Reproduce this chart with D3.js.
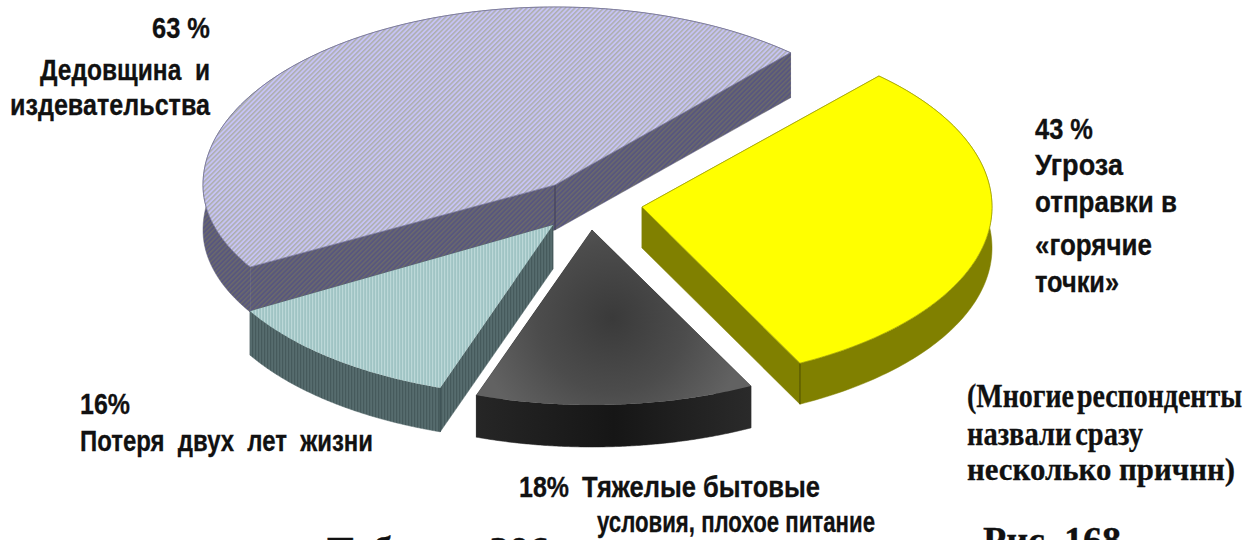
<!DOCTYPE html>
<html><head><meta charset="utf-8">
<script src="https://cdn.jsdelivr.net/npm/d3@7"></script>
<style>html,body{margin:0;padding:0;background:#fff;overflow:hidden}svg{display:block}
.s{font-family:"Liberation Sans",Arial,sans-serif;font-weight:700;fill:#111;stroke:#111;stroke-width:.3}
.r{font-family:"Liberation Serif","Times New Roman",serif;font-weight:700;fill:#111;stroke:#111;stroke-width:.3}</style>
</head><body><svg id="c" width="1244" height="540"></svg>
<script>
// ---- data ----
const categories = ["Дедовщина и издевательства","Угроза отправки в «горячие точки»","Тяжелые бытовые условия, плохое питание","Потеря двух лет жизни"];
const values = [63,43,18,16];
const pctLabels = ["63 %","43 %","18%","16%"];

// ---- drawing layout (not data) ----
const layout = [
 {cx:555,cy:185,rx:352,back:178,front:164,depth:45,start:240,top:"url(#hP)",wall:"url(#hPw)",edge:"#3c3a55",outline:"#77769a"},
 {cx:642,cy:207,rx:350,back:178,front:175,depth:41,start:42.6,top:"#ffff00",wall:"#808000",edge:"#4c4c00",outline:"#a8a800"},
 {cx:592,cy:230,rx:350,back:175,front:175,depth:42,start:153,top:"url(#gG)",wall:"url(#gW)",edge:null,outline:null},
 {cx:553,cy:225,rx:350,back:172,front:172,depth:44,start:198.8,top:"url(#hT)",wall:"url(#hTw)",edge:"#34474a",outline:null}
];
const textRows = [
 {t:"63 %",x:152,y:38,w:58,c:"s",fs:29},
 {t:"Дедовщина\u00a0\u00a0и",x:40,y:80,w:170,c:"s",fs:29},
 {t:"издевательства",x:10,y:115,w:200,c:"s",fs:29},
 {t:"43 %",x:1035,y:139,w:58,c:"s",fs:29},
 {t:"Угроза",x:1035,y:175,w:88,c:"s",fs:29},
 {t:"отправки в",x:1035,y:212,w:142,c:"s",fs:29},
 {t:"«горячие",x:1035,y:255,w:117,c:"s",fs:29},
 {t:"точки»",x:1035,y:292,w:84,c:"s",fs:29},
 {t:"16%",x:80,y:414,w:50,c:"s",fs:29},
 {t:"Потеря\u00a0 двух\u00a0 лет\u00a0 жизни",x:80,y:451,w:293,c:"s",fs:29},
 {t:"18%",x:519,y:497,w:50,c:"s",fs:29},
 {t:"Тяжелые бытовые",x:582,y:497,w:238,c:"s",fs:29},
 {t:"условия, плохое питание",x:597,y:532,w:278,c:"s",fs:29},
 {t:"(Многие респонденты",x:967,y:407,w:275,c:"r",fs:34,ws:-5},
 {t:"назвали сразу",x:967,y:445,w:176,c:"r",fs:34,ws:-4},
 {t:"несколько причнн)",x:967,y:480,w:268,c:"r",fs:32,ws:0},
 {t:"Таблица 206",x:327,y:563,w:222,c:"r",fs:38,ws:0},
 {t:"Рис. 168",x:983,y:553,w:138,c:"r",fs:38,ws:0}
];

const svg = d3.select("#c");
const defs = svg.append("defs");
function hatch(id,bg,fg,size,rot,bw){
  const p = defs.append("pattern").attr("id",id).attr("patternUnits","userSpaceOnUse")
    .attr("width",size).attr("height",size).attr("patternTransform",`rotate(${rot})`);
  p.append("rect").attr("width",size).attr("height",size).attr("fill",bg);
  p.append("rect").attr("width",bw).attr("height",size).attr("fill",fg);
}
hatch("hP","#c6c3f4","#adafae",3.4,45,1.5);
hatch("hPw","#58567e","#6a6a6c",3.4,45,1.5);
hatch("hT","#a0c4c4","#bcd8d8",3,0,1.2);
hatch("hTw","#566c6e","#465a5c",3,0,1.2);
const rg = defs.append("radialGradient").attr("id","gG").attr("gradientUnits","userSpaceOnUse")
  .attr("cx",612).attr("cy",318).attr("r",135);
rg.append("stop").attr("offset",0).attr("stop-color","#3a3a3a");
rg.append("stop").attr("offset",0.55).attr("stop-color","#4c4c4c");
rg.append("stop").attr("offset",1).attr("stop-color","#626262");
const wg = defs.append("linearGradient").attr("id","gW").attr("x1",0).attr("x2",1).attr("y1",0).attr("y2",0);
wg.append("stop").attr("offset",0).attr("stop-color","#262626");
wg.append("stop").attr("offset",.5).attr("stop-color","#161616");
wg.append("stop").attr("offset",1).attr("stop-color","#2a2a2a");

// angles come from the values through the library's pie layout
const pie = d3.pie().sort(null).value(d=>d).startAngle(0).endAngle(2*Math.PI);
const arcs = pie(values);
const line = d3.line().curve(d3.curveLinear);

arcs.forEach((a,i)=>{
  const L = layout[i];
  const off = L.start*Math.PI/180;
  const proj = (t,dz=0)=>{
    const c=Math.cos(t);
    return [L.cx+L.rx*Math.sin(t), L.cy-c*(c>0?L.back:L.front)+dz];
  };
  const sweep = d3.scaleLinear().domain([0,120]).range([off,off+a.endAngle-a.startAngle]);
  const ts = d3.range(0,121).map(sweep);
  const g = svg.append("g");
  const t0=ts[0], t1=ts[ts.length-1];
  const hub=[L.cx,L.cy], hubD=[L.cx,L.cy+L.depth];
  const faces=[
    [hub,proj(t0),proj(t0,L.depth),hubD],
    [hub,proj(t1),proj(t1,L.depth),hubD],
    ts.map(t=>proj(t)).concat(ts.slice().reverse().map(t=>proj(t,L.depth)))
  ];
  g.selectAll("path.w").data(faces).join("path").attr("class","w")
    .attr("d",d=>line(d)+"Z").attr("fill",L.wall).attr("stroke",L.wall).attr("stroke-width",.5);
  if(L.edge){
    const edges = i===0 ? [[hub,hubD]] : i===1 ? [[proj(t1),proj(t1,L.depth)]] : [[proj(t0),proj(t0,L.depth)]];
    edges.forEach(s=>g.append("path").attr("d",line(s)).attr("stroke",L.edge).attr("stroke-width",1).attr("fill","none"));
  }
  g.append("path").datum([hub].concat(ts.map(t=>proj(t))))
    .attr("d",d=>line(d)+"Z").attr("fill",L.top)
    .attr("stroke",L.outline||"none").attr("stroke-width",L.outline?.8:0);
});

svg.selectAll("text.l").data(textRows).join("text")
  .attr("class",d=>"l "+d.c).attr("x",d=>d.x).attr("y",d=>d.y)
  .attr("font-size",d=>d.fs).attr("textLength",d=>d.w).attr("lengthAdjust","spacingAndGlyphs")
  .style("word-spacing",d=>d.ws?d.ws+"px":null)
  .text(d=>d.t);
</script></body></html>
